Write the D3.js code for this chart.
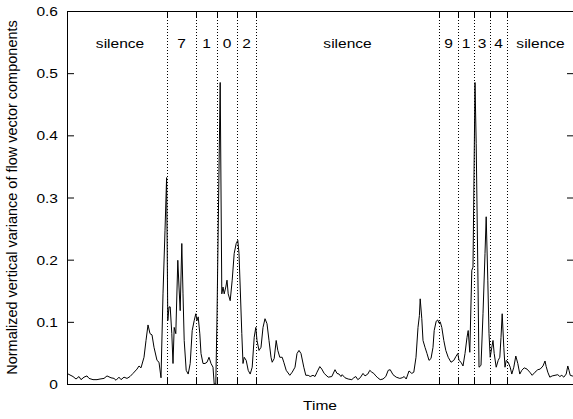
<!DOCTYPE html>
<html>
<head>
<meta charset="utf-8">
<script src="https://cdn.jsdelivr.net/npm/d3@7"></script>
<style>
  body { margin: 0; background: #fff; }
  text { font-family: "Liberation Sans", Arial, Helvetica, sans-serif; fill: #000; }
</style>
</head>
<body>
<svg></svg>
<script>
// time in frames, variance values
const frames = [0, 3, 4.5, 6, 7, 8.5, 10, 11, 13, 15, 16.5, 18.5, 20, 22, 23.5, 24.5, 26, 27, 28.5, 30,
  31.5, 33, 35, 36, 37, 38.5, 39.5, 40.5, 41.5, 42.5, 43.5, 45, 46, 47, 48, 49, 49.8, 50.4, 51, 51.6,
  52.4, 53, 53.6, 54.4, 55.4, 56, 56.6, 57.4, 58, 58.6, 59.6, 60.6, 61.6, 62.6, 63.6, 64.4, 65, 65.6, 66.4, 67,
  68, 69, 70, 71, 72, 73, 73.6, 74.4, 75, 76.6, 77.4, 78, 78.6, 79.4, 80, 80.6, 81.6, 82.6, 83.6, 84.6,
  85.4, 86, 86.6, 87.4, 88, 88.6, 89.6, 90.6, 91.6, 92.6, 93.6, 94.4, 95, 96, 97, 98, 99, 100, 101, 102,
  102.6, 103.6, 104.6, 105.4, 106.4, 107.6, 108.4, 109.6, 111.4, 112.6, 114, 115, 116, 117, 118.4, 119.4, 120.6, 121.6, 123, 124,
  125, 126.4, 127.4, 128.6, 130.6, 132.4, 134, 135, 136, 137, 137.6, 139, 140.6, 142.4, 143.4, 144.4, 145.4, 146.6, 148, 149,
  150.4, 151.4, 152.4, 153.4, 154.4, 155.4, 156.6, 158, 159.4, 160.6, 161.6, 163, 164.6, 166.4, 167.6, 168.6, 169.6, 171, 172.4, 173.4,
  174.5, 175.5, 176.2, 176.6, 177.4, 178, 179, 180, 181, 182, 183, 183.6, 184.6, 185.4, 186, 186.6, 187.4, 188.4, 189.4, 190.6,
  192, 193.4, 194.4, 195.4, 196, 197, 198, 199, 200, 200.6, 201.4, 202.4, 203, 204, 204.6, 205.4, 206, 207, 208, 209,
  209.6, 210.4, 211, 211.6, 212.4, 213, 213.6, 214.6, 215.6, 216.4, 217, 217.6, 218.4, 219, 219.6, 220.6, 221.6, 222.4, 223.4, 224.4,
  225.4, 226.4, 227.4, 228.6, 230, 231.4, 232.6, 234, 235.4, 236.6, 238, 239, 239.6, 240.4, 241.4, 242.6, 244, 245.4, 246.4, 247.4,
  248.4, 249.6, 250.4, 251, 251.6, 252.6, 253.5];

const variance = [0.017, 0.012, 0.008, 0.012, 0.007, 0.011, 0.013, 0.009, 0.007, 0.007, 0.008, 0.009, 0.013, 0.010, 0.009, 0.006, 0.011, 0.007, 0.011, 0.009,
  0.012, 0.017, 0.024, 0.029, 0.026, 0.043, 0.070, 0.095, 0.081, 0.079, 0.059, 0.038, 0.035, 0.010, 0.145, 0.247, 0.332, 0.102, 0.124, 0.124,
  0.081, 0.033, 0.091, 0.081, 0.199, 0.156, 0.118, 0.226, 0.145, 0.070, 0.022, 0.016, 0.033, 0.086, 0.102, 0.113, 0.102, 0.108, 0.081, 0.049,
  0.033, 0.033, 0.035, 0.043, 0.033, 0.027, 0.0, 0.0, 0.108, 0.485, 0.145, 0.156, 0.145, 0.156, 0.167, 0.145, 0.134, 0.167, 0.210, 0.226,
  0.231, 0.210, 0.156, 0.081, 0.033, 0.043, 0.038, 0.022, 0.016, 0.027, 0.075, 0.091, 0.070, 0.054, 0.059, 0.091, 0.105, 0.097, 0.070, 0.043,
  0.035, 0.041, 0.070, 0.054, 0.043, 0.043, 0.035, 0.022, 0.014, 0.019, 0.027, 0.049, 0.054, 0.049, 0.027, 0.014, 0.014, 0.012, 0.014, 0.012,
  0.019, 0.028, 0.024, 0.017, 0.011, 0.012, 0.023, 0.017, 0.016, 0.012, 0.015, 0.010, 0.008, 0.007, 0.010, 0.012, 0.007, 0.010, 0.017, 0.013,
  0.016, 0.022, 0.019, 0.017, 0.013, 0.010, 0.007, 0.008, 0.012, 0.022, 0.023, 0.015, 0.011, 0.009, 0.010, 0.012, 0.008, 0.021, 0.017, 0.019,
  0.043, 0.091, 0.110, 0.137, 0.105, 0.070, 0.059, 0.049, 0.038, 0.041, 0.059, 0.086, 0.101, 0.103, 0.098, 0.100, 0.091, 0.070, 0.054, 0.043,
  0.035, 0.038, 0.044, 0.049, 0.038, 0.035, 0.029, 0.049, 0.075, 0.086, 0.051, 0.183, 0.188, 0.485, 0.387, 0.188, 0.027, 0.030, 0.113, 0.210,
  0.269, 0.167, 0.081, 0.043, 0.059, 0.070, 0.049, 0.027, 0.038, 0.043, 0.075, 0.113, 0.059, 0.027, 0.038, 0.035, 0.027, 0.016, 0.027, 0.045,
  0.033, 0.016, 0.022, 0.026, 0.024, 0.019, 0.014, 0.019, 0.023, 0.024, 0.029, 0.037, 0.028, 0.019, 0.011, 0.013, 0.014, 0.015, 0.012, 0.014,
  0.011, 0.016, 0.029, 0.022, 0.014, 0.013, 0.012];

// segment boundaries (frames) and the spoken digits between them
const boundaries = [50, 64.5, 75, 85, 94.5, 186, 195.5, 203.5, 211.5, 220];
const segmentLabels = ["silence", "7", "1", "0", "2", "silence", "9", "1", "3", "4", "silence"];
const yTicks = [0, 0.1, 0.2, 0.3, 0.4, 0.5, 0.6];
const tMax = 253.5;

const W = 573, H = 419;
const margin = {left: 67, right: -1, top: 11, bottom: 35};
const fs = 13.5;     // font size
const stretch = 1.15; // the original text is a bit wider than it is tall

const svg = d3.select('svg')
  .attr('width', W)
  .attr('height', H);

const x = d3.scaleLinear()
  .domain([0, tMax])
  .range([margin.left, W - margin.right]);

const y = d3.scaleLinear()
  .domain([0, 0.6])
  .range([H - margin.bottom, margin.top]);

// horizontal text, stretched in x
function label(px, py, str, anchor) {
  svg.append('text')
    .attr('transform', `translate(${px},${py}) scale(${stretch},1)`)
    .attr('text-anchor', anchor || 'middle')
    .style('font-size', fs + 'px')
    .text(str);
}

// dotted boundaries
svg.selectAll('.bound')
  .data(boundaries)
  .enter()
  .append('line')
  .attr('class', 'bound')
  .attr('x1', d => Math.round(x(d)) + 0.5)
  .attr('x2', d => Math.round(x(d)) + 0.5)
  .attr('y1', y(0.6))
  .attr('y2', y(0))
  .attr('stroke', '#000')
  .attr('stroke-width', 1)
  .attr('stroke-dasharray', '1,2');

// inward x ticks top + bottom
const xTop = d3.axisTop(x).tickValues(boundaries).tickSize(-7).tickFormat('');
const xBottom = d3.axisBottom(x).tickValues(boundaries).tickSize(-7).tickFormat('');
svg.append('g').attr('transform', `translate(0,${y(0.6)})`).call(xTop);
svg.append('g').attr('transform', `translate(0,${y(0)})`).call(xBottom);

// y axis, inward ticks; labels drawn separately
svg.append('g')
  .attr('transform', `translate(${margin.left},0)`)
  .call(d3.axisLeft(y).tickValues(yTicks).tickSize(-7).tickFormat(''));
svg.append('g')
  .attr('transform', `translate(${W - margin.right},0)`)
  .call(d3.axisRight(y).tickValues(yTicks).tickSize(-7).tickFormat(''));

yTicks.forEach(d => label(58, y(d) + 5, d === 0 ? '0' : d3.format('.1f')(d), 'end'));

svg.selectAll('.domain').remove();
svg.selectAll('.tick line').attr('stroke', '#000');

// frame
svg.append('rect')
  .attr('x', margin.left + 0.5)
  .attr('y', margin.top + 0.5)
  .attr('width', W - margin.right - margin.left - 1)
  .attr('height', y(0) - y(0.6))
  .attr('fill', 'none')
  .attr('stroke', '#000')
  .attr('stroke-width', 1);

// the series
const pts = frames.map((t, i) => [t, variance[i]]);
const line = d3.line()
  .x(d => x(d[0]))
  .y(d => y(d[1]));

svg.append('path')
  .datum(pts)
  .attr('d', line)
  .attr('fill', 'none')
  .attr('stroke', '#000')
  .attr('stroke-width', 1);

// segment labels
const edges = [0].concat(boundaries, [tMax]);
segmentLabels.forEach((d, i) => label(x((edges[i] + edges[i + 1]) / 2) + (i === 0 ? 3 : 0), 48, d));

// axis titles
label((margin.left + W) / 2, 410, 'Time');

svg.append('text')
  .attr('transform', `translate(17,${(y(0) + y(0.6)) / 2}) rotate(-90)`)
  .attr('text-anchor', 'middle')
  .style('font-size', '14.5px')
  .text('Normalized vertical variance of flow vector components');
</script>
</body>
</html>
